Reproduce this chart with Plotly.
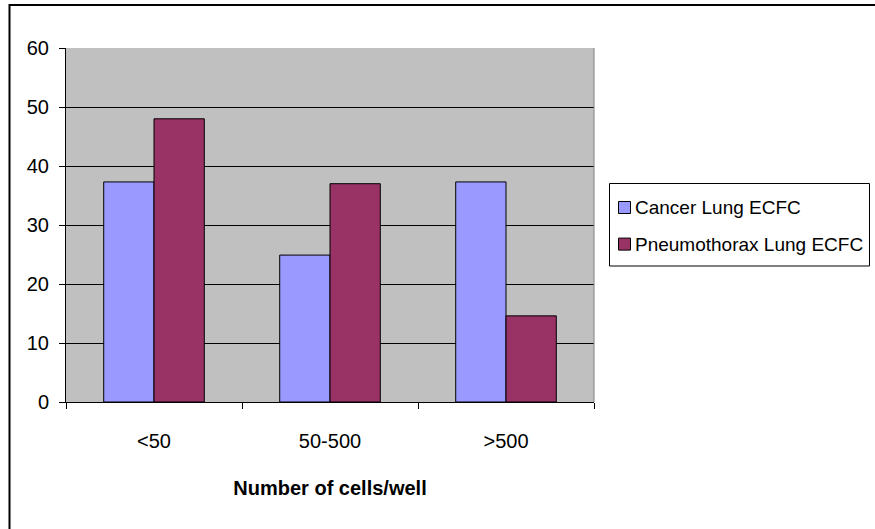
import plotly.graph_objects as go

# Colony size distribution per well
categories = ["<50", "50-500", ">500"]
cancer_lung = [37.3, 24.9, 37.3]
pneumothorax_lung = [48.0, 37.0, 14.6]
series_names = ["Cancer Lung ECFC", "Pneumothorax Lung ECFC"]
series_colors = ["#9999FF", "#993366"]
y_ticks = [0, 10, 20, 30, 40, 50, 60]

FONT = "Liberation Sans, Arial, sans-serif"
bar_line = dict(color="black", width=1)

fig = go.Figure()
for name, vals, col in zip(series_names, [cancer_lung, pneumothorax_lung], series_colors):
    fig.add_trace(go.Bar(
        x=categories, y=vals, name=name,
        marker=dict(color=col, line=bar_line),
    ))

L, R, T, B = 66, 281, 48, 127
W, H = 875, 529
pw, ph = W - L - R, H - T - B


def px_x(p):
    return (p - L) / pw


def px_y(p):
    return (H - B - p) / ph


fig.update_layout(
    width=W, height=H,
    margin=dict(l=L, r=R, t=T, b=B, pad=0),
    paper_bgcolor="white",
    plot_bgcolor="#C0C0C0",
    barmode="group",
    bargap=1.5 / 3.5,
    bargroupgap=0,
    font=dict(family=FONT, size=20, color="black"),
    showlegend=False,
    xaxis=dict(
        type="category",
        showline=True, linecolor="black", linewidth=1,
        ticks="outside", tickson="boundaries", ticklen=6,
        tickcolor="black", tickwidth=1,
        showgrid=False,
        ticklabelstandoff=21,
        title=dict(text="<b>Number of cells/well</b>",
                   font=dict(family=FONT, size=20), standoff=29),
    ),
    yaxis=dict(
        range=[0, 60], tickvals=y_ticks,
        showline=True, linecolor="black", linewidth=1,
        ticks="outside", ticklen=6, tickcolor="black", tickwidth=1,
        showgrid=True, gridcolor="black", gridwidth=1,
        zeroline=False,
        ticklabelstandoff=6,
    ),
)

# Outer chart frame (runs off the right and bottom edges)
fig.add_shape(
    type="rect", xref="paper", yref="paper",
    x0=px_x(9.5), x1=px_x(W + 10), y0=px_y(H + 10), y1=px_y(5),
    line=dict(color="black", width=2), fillcolor="rgba(0,0,0,0)",
    layer="below",
)
# Plot area right edge
fig.add_shape(
    type="line", xref="paper", yref="paper",
    x0=1, x1=1, y0=0, y1=1,
    line=dict(color="#808080", width=1),
)

# Legend box with swatches and series names
fig.add_shape(
    type="rect", xref="paper", yref="paper",
    x0=px_x(609.5), x1=px_x(869.5), y0=px_y(266), y1=px_y(183.5),
    line=dict(color="black", width=1), fillcolor="white",
)
for i, (name, col) in enumerate(zip(series_names, series_colors)):
    cy = 207.5 + i * 36.6
    fig.add_shape(
        type="rect", xref="paper", yref="paper",
        x0=px_x(618.5), x1=px_x(630.5), y0=px_y(cy + 6), y1=px_y(cy - 6),
        line=dict(color="black", width=1), fillcolor=col,
    )
    fig.add_annotation(
        xref="paper", yref="paper", x=px_x(633), y=px_y(cy),
        xanchor="left", yanchor="middle", showarrow=False,
        text=name, font=dict(family=FONT, size=19, color="black"),
    )

fig.write_html("out.html")
